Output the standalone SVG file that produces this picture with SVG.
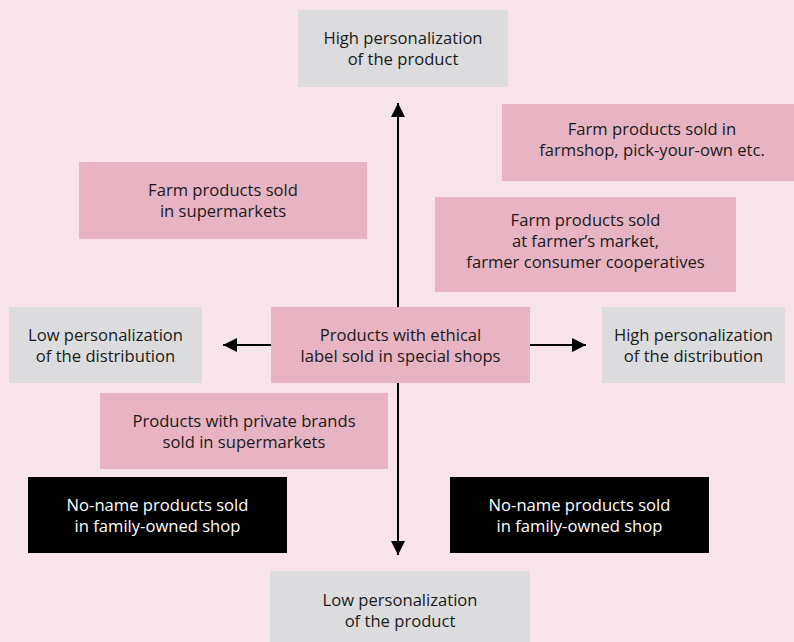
<svg xmlns="http://www.w3.org/2000/svg" width="794" height="642" viewBox="0 0 794 642">
<defs>
<style>
.bg{fill:#f7e4ea}
.pink{fill:#e8b3c2}
.gray{fill:#dcdcde}
.dark{fill:#000}
text{font-family:"Open Sans","Noto Sans","DejaVu Sans",sans-serif;font-size:16.6px;text-anchor:middle;fill:#1a1a1a}
.w{fill:#ffffff}
.ax{stroke:#000;stroke-width:2;fill:none}
</style>
<marker id="ahv" viewBox="0 0 16 15" refX="15" refY="7.5" markerWidth="15" markerHeight="16" markerUnits="userSpaceOnUse" orient="auto">
<path d="M0,0 L15,7.5 L0,15 Z" fill="#000"/>
</marker>
</defs>
<rect class="bg" x="0" y="0" width="794" height="642"/>
<g id="connectors">
<line class="ax" x1="398" y1="307" x2="398" y2="103" marker-end="url(#ahv)"/>
<line class="ax" x1="398" y1="383" x2="398" y2="555" marker-end="url(#ahv)"/>
<line class="ax" x1="271" y1="345" x2="223" y2="345" marker-end="url(#ahv)"/>
<line class="ax" x1="530" y1="345" x2="586" y2="345" marker-end="url(#ahv)"/>
</g>
<g id="high-product">
<rect class="gray" x="298" y="10" width="210" height="77"/>
<text x="403" y="44">High personalization</text>
<text x="403" y="65">of the product</text>
</g>
<g id="farmshop">
<rect class="pink" x="502" y="104" width="300" height="77"/>
<text x="652" y="135">Farm products sold in</text>
<text x="652" y="156">farmshop, pick-your-own etc.</text>
</g>
<g id="supermarkets">
<rect class="pink" x="79" y="162" width="288" height="77"/>
<text x="223" y="196">Farm products sold</text>
<text x="223" y="217">in supermarkets</text>
</g>
<g id="farmers-market">
<rect class="pink" x="435" y="197" width="301" height="95"/>
<text x="585.5" y="226">Farm products sold</text>
<text x="585.5" y="247">at farmer’s market,</text>
<text x="585.5" y="268">farmer consumer cooperatives</text>
</g>
<g id="low-distribution">
<rect class="gray" x="9" y="307" width="193" height="76"/>
<text x="105.5" y="341">Low personalization</text>
<text x="105.5" y="362">of the distribution</text>
</g>
<g id="ethical">
<rect class="pink" x="271" y="307" width="259" height="76"/>
<text x="400.5" y="341">Products with ethical</text>
<text x="400.5" y="362">label sold in special shops</text>
</g>
<g id="high-distribution">
<rect class="gray" x="602" y="307" width="183" height="76"/>
<text x="693.5" y="341">High personalization</text>
<text x="693.5" y="362">of the distribution</text>
</g>
<g id="private-brands">
<rect class="pink" x="100" y="393" width="288" height="76"/>
<text x="244" y="427">Products with private brands</text>
<text x="244" y="448">sold in supermarkets</text>
</g>
<g id="noname-left">
<rect class="dark" x="28" y="477" width="259" height="76"/>
<text class="w" x="157.5" y="511">No-name products sold</text>
<text class="w" x="157.5" y="532">in family-owned shop</text>
</g>
<g id="noname-right">
<rect class="dark" x="450" y="477" width="259" height="76"/>
<text class="w" x="579.5" y="511">No-name products sold</text>
<text class="w" x="579.5" y="532">in family-owned shop</text>
</g>
<g id="low-product">
<rect class="gray" x="270" y="571" width="260" height="71"/>
<text x="400" y="606">Low personalization</text>
<text x="400" y="627">of the product</text>
</g>
</svg>
